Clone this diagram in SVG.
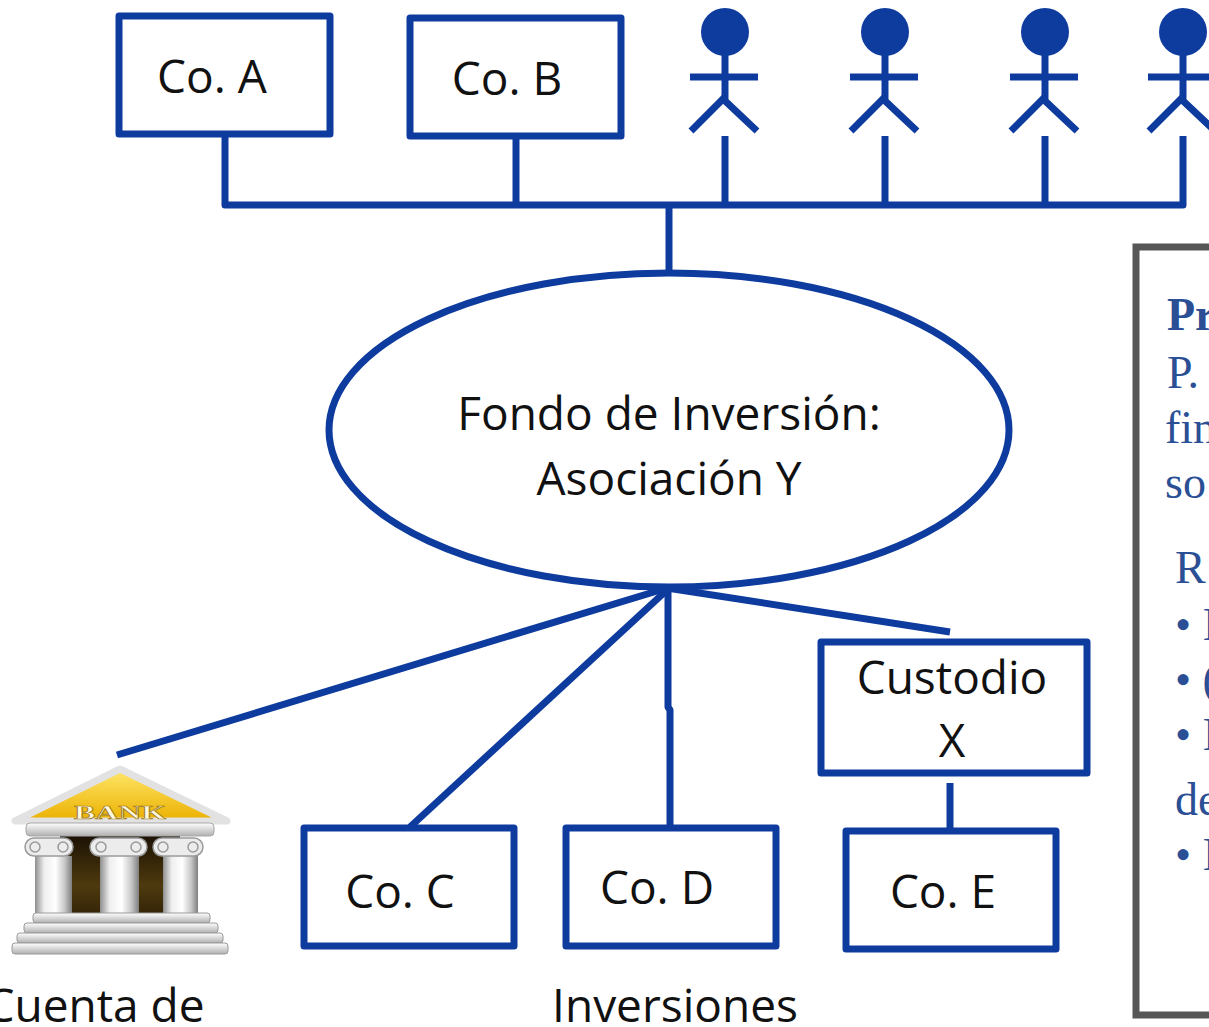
<svg xmlns="http://www.w3.org/2000/svg" width="1209" height="1027" viewBox="0 0 1209 1027">
  <defs>
    <style>
      .box { fill: #ffffff; stroke: #0E3B9E; stroke-width: 7; stroke-linejoin: round; }
      .wire { fill: none; stroke: #0E3B9E; stroke-width: 7; stroke-linecap: butt; stroke-linejoin: round; }
      .stick { fill: none; stroke: #0E3B9E; stroke-width: 7; }
      .head { fill: #0E3B9E; }
      .lbl { font-family: "Open Sans", "Noto Sans", sans-serif; font-size: 46px; fill: #111111; text-anchor: middle; }
      .note { font-family: "Liberation Serif", "Times New Roman", serif; font-size: 46px; fill: #2A4F94; }
    </style>
    <linearGradient id="roofFill" x1="0" y1="0" x2="0" y2="1">
      <stop offset="0" stop-color="#FFE76A"/>
      <stop offset="1" stop-color="#EBB000"/>
    </linearGradient>
    <linearGradient id="stone" x1="0" y1="0" x2="1" y2="0">
      <stop offset="0" stop-color="#8E8E8E"/>
      <stop offset="0.25" stop-color="#EFEFEF"/>
      <stop offset="0.55" stop-color="#FFFFFF"/>
      <stop offset="0.8" stop-color="#C8C8C8"/>
      <stop offset="1" stop-color="#7E7E7E"/>
    </linearGradient>
    <linearGradient id="stoneV" x1="0" y1="0" x2="0" y2="1">
      <stop offset="0" stop-color="#FFFFFF"/>
      <stop offset="1" stop-color="#B0B0B0"/>
    </linearGradient>
    <linearGradient id="hall" x1="0" y1="0" x2="0" y2="1">
      <stop offset="0" stop-color="#1C1204"/>
      <stop offset="0.55" stop-color="#4E3A0E"/>
      <stop offset="1" stop-color="#2A1C05"/>
    </linearGradient>
    <symbol id="figure" viewBox="0 0 80 135">
      <circle class="head" cx="40" cy="32" r="24"/>
      <line class="stick" x1="40" y1="50" x2="40" y2="99"/>
      <line class="stick" x1="5" y1="77" x2="73" y2="77"/>
      <polyline class="stick" points="6,131 38,99 72,131"/>
    </symbol>
  </defs>

  <rect width="1209" height="1027" fill="#ffffff"/>

  <!-- connectors -->
  <g id="connectors">
    <polyline class="wire" points="225,134 225,205 1183,205 1183,136"/>
    <line class="wire" x1="516" y1="136" x2="516" y2="205"/>
    <line class="wire" x1="725" y1="136" x2="725" y2="205"/>
    <line class="wire" x1="885" y1="136" x2="885" y2="205"/>
    <line class="wire" x1="1045" y1="136" x2="1045" y2="205"/>
    <line class="wire" x1="669" y1="205" x2="669" y2="273"/>
    <line class="wire" x1="667" y1="588" x2="117" y2="755"/>
    <line class="wire" x1="667" y1="590" x2="410" y2="827"/>
    <polyline class="wire" points="668,588 668,707 670,710 670,827"/>
    <line class="wire" x1="667" y1="588" x2="950" y2="632"/>
    <line class="wire" x1="950" y1="783" x2="950" y2="830"/>
  </g>

  <!-- owners -->
  <g id="co-a">
    <rect class="box" x="119" y="16" width="211" height="118"/>
    <text class="lbl" x="212" y="93">Co. A</text>
  </g>
  <g id="co-b">
    <rect class="box" x="410" y="18" width="211" height="118"/>
    <text class="lbl" x="507" y="95">Co. B</text>
  </g>
  <g id="person-1"><use href="#figure" x="685" y="0" width="80" height="135"/></g>
  <g id="person-2"><use href="#figure" x="845" y="0" width="80" height="135"/></g>
  <g id="person-3"><use href="#figure" x="1005" y="0" width="80" height="135"/></g>
  <g id="person-4"><use href="#figure" x="1143" y="0" width="80" height="135"/></g>

  <!-- fund -->
  <g id="fund">
    <ellipse cx="669" cy="430" rx="340" ry="157" fill="#ffffff" stroke="#0E3B9E" stroke-width="7"/>
    <text class="lbl" x="669" y="430">Fondo de Inversión:</text>
    <text class="lbl" x="669" y="495">Asociación Y</text>
  </g>

  <!-- bank account -->
  <g id="bank">
    <!-- dark hall behind the columns -->
    <rect x="60" y="836" width="120" height="90" fill="url(#hall)"/>
    <!-- roof -->
    <polygon points="120,769 15,821 227,821" fill="url(#roofFill)" stroke="#E2E2E2" stroke-width="7" stroke-linejoin="round"/>
    <text x="120" y="819" font-family="Liberation Serif, serif" font-weight="bold" font-size="19" fill="#FFF8E0" stroke="#A07C1A" stroke-width="0.7" text-anchor="middle" textLength="92" lengthAdjust="spacingAndGlyphs">BANK</text>
    <!-- entablature -->
    <rect x="26" y="823" width="188" height="13" rx="4" fill="url(#stoneV)" stroke="#A8A8A8" stroke-width="1"/>
    <!-- column shafts -->
    <rect x="35" y="856" width="37" height="62" fill="url(#stone)"/>
    <rect x="100" y="856" width="39" height="62" fill="url(#stone)"/>
    <rect x="163" y="856" width="35" height="62" fill="url(#stone)"/>
    <!-- capitals -->
    <g fill="#ECECEC" stroke="#9A9A9A" stroke-width="1.5">
      <rect x="25" y="838" width="48" height="18" rx="9"/>
      <rect x="90" y="838" width="57" height="18" rx="9"/>
      <rect x="153" y="838" width="50" height="18" rx="9"/>
      <circle cx="35" cy="847" r="5"/>
      <circle cx="63" cy="847" r="5"/>
      <circle cx="101" cy="847" r="5"/>
      <circle cx="136" cy="847" r="5"/>
      <circle cx="163" cy="847" r="5"/>
      <circle cx="193" cy="847" r="5"/>
    </g>
    <!-- steps -->
    <g fill="url(#stoneV)" stroke="#9A9A9A" stroke-width="1">
      <rect x="33" y="913" width="177" height="10" rx="3"/>
      <rect x="24" y="923" width="194" height="10" rx="3"/>
      <rect x="17" y="933" width="206" height="10" rx="3"/>
      <rect x="12" y="943" width="216" height="11" rx="3"/>
    </g>
  </g>
  <text class="lbl" x="95" y="1022">Cuenta de</text>

  <!-- investments -->
  <g id="co-c">
    <rect class="box" x="304" y="828" width="210" height="118"/>
    <text class="lbl" x="400" y="908">Co. C</text>
  </g>
  <g id="co-d">
    <rect class="box" x="566" y="828" width="210" height="118"/>
    <text class="lbl" x="657" y="904">Co. D</text>
  </g>
  <g id="custodio-x">
    <rect class="box" x="821" y="642" width="266" height="131"/>
    <text class="lbl" x="952" y="694">Custodio</text>
    <text class="lbl" x="952" y="757">X</text>
  </g>
  <g id="co-e">
    <rect class="box" x="846" y="831" width="210" height="118"/>
    <text class="lbl" x="943" y="908">Co. E</text>
  </g>
  <text class="lbl" x="675" y="1022">Inversiones</text>

  <!-- side note panel -->
  <g id="note-panel">
    <rect x="1136" y="247" width="100" height="768" fill="#ffffff" stroke="#575757" stroke-width="7"/>
    <text class="note" x="1167" y="330" font-weight="bold">Pr</text>
    <text class="note" x="1167" y="388">P.</text>
    <text class="note" x="1165" y="443">fin</text>
    <text class="note" x="1165" y="498">so</text>
    <text class="note" x="1175" y="583">R</text>
    <text class="note" x="1175" y="640">• I</text>
    <text class="note" x="1175" y="695">• (</text>
    <text class="note" x="1175" y="750">• I</text>
    <text class="note" x="1175" y="815">de</text>
    <text class="note" x="1175" y="870">• I</text>
  </g>
</svg>
